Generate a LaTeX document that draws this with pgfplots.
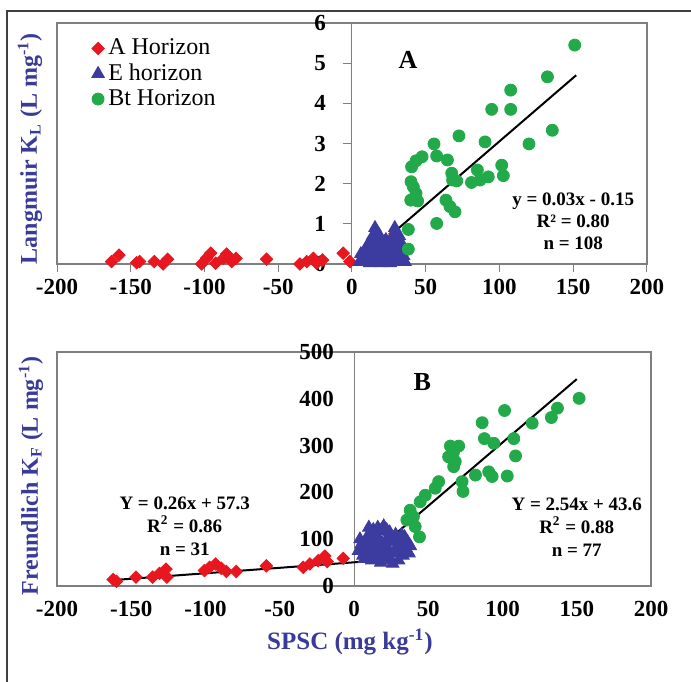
\documentclass[border=0pt]{standalone}
\usepackage{fontspec}
\setmainfont{Liberation Serif}
\usepackage{pgfplots}
\pgfplotsset{compat=1.18}
\definecolor{RedA}{HTML}{E8161E}
\definecolor{BlueE}{HTML}{3C3CA0}
\definecolor{GreenBt}{HTML}{22AA4A}
\definecolor{LabBlue}{HTML}{3A3A98}
\definecolor{BoxGray}{HTML}{7F7F7F}

\pgfplotsset{
  panel/.style={
    scale only axis, clip=false,
    xmin=-200, xmax=200,
    xtick={-200,-150,...,200},
    xtick pos=bottom, ytick pos=left,
    axis line style={draw=BoxGray, line width=0.75pt},
    tick align=outside,
    tick style={draw=BoxGray, line width=0.5pt},
    y tick style={draw=none},
    /pgf/number format/assume math mode=true,
    ticklabel style={font=\fontsize{11.5}{13}\selectfont\bfseries},
  },
  redA/.style={only marks, mark=square*, mark size=2.2pt, color=RedA,
    mark options={rotate=45, draw=RedA, fill=RedA}},
  blueE/.style={only marks, mark=triangle*, mark size=3.6pt, color=BlueE,
    mark options={draw=BlueE, fill=BlueE}},
  greenBt/.style={only marks, mark=*, mark size=3pt, color=GreenBt,
    mark options={draw=GreenBt, fill=GreenBt}},
}

\begin{document}
\begin{tikzpicture}
\useasboundingbox (0,0) rectangle (345.5pt,-340.5pt);
\draw[black!75, line width=0.7pt] (3.5pt,-345pt) -- (3.5pt,-5.5pt) -- (350pt,-5.5pt);

%% Panel A: Langmuir
\begin{axis}[panel,
  at={(28.5pt,-132pt)}, anchor=south west,
  width=295pt, height=120.5pt,
  ymin=0, ymax=6, ytick={0,1,...,6},
  major tick length=4pt,
  yticklabel style={xshift=142pt},
  legend style={at={(rel axis cs:0.055,0.96)}, anchor=north west,
    draw=none, fill=none, font=\fontsize{12}{14}\selectfont,
    row sep=-1pt, inner sep=1pt},
  legend cell align=left,
]
\draw[BoxGray, line width=0.5pt] (axis cs:0,0) -- (axis cs:0,6);
\pgfplotsinvokeforeach{1,...,5}{\draw[BoxGray, line width=0.5pt] ([xshift=-4.5pt]axis cs:0,#1) -- (axis cs:0,#1);}
\addplot[redA] coordinates {
  (-163,0.06)(-158,0.22)(-146,0.03)(-144,0.06)(-134,0.06)(-128,0)(-125,0.12)
  (-102,0)(-98.5,0.15)(-95.8,0.27)(-92.4,0.02)(-87.2,0.14)(-85,0.25)(-81.6,0.06)
  (-78.6,0.14)(-57.9,0.12)(-35.3,0)(-30.7,0.06)(-26.2,0.14)(-24,0.02)(-20,0.1)
  (-6,0.27)(-1.4,0.06)(21,0.3)(25,0.35)(29,0.75)(31,0.2)};
\addlegendentry{A Horizon}
\addplot[blueE] coordinates {
  (5,0.05)(7,0.1)(8,0.2)(9,0.05)(10,0.3)(11,0.15)(12,0.45)(13,0.6)(14,0.1)
  (15,0.35)(15.6,0.9)(16,0.2)(17,0.5)(18,0.05)(18,0.3)(19,0.6)(20,0.15)
  (21,0.4)(22,0.1)(22,0.55)(23,0.25)(24,0.05)(25,0.45)(26,0.2)(27,0.65)
  (28,0.1)(29,0.9)(29,0.35)(30,0.5)(31,0.2)(32,0.05)(32,0.7)(33,0.3)
  (34,0.1)(35,0.2)(20,0.02)(26,0.02)(12,0.02)(9,0.35)(11,0.5)(14,0.7)
  (16,0.65)(18,0.75)(24,0.3)(27,0.35)(30,0.8)(33,0.55)(36,0.05)(6,0.25)
  (20,0.5)(23,0.6)(28,0.5)(31,0.4)(35,0.4)};
\addlegendentry{E horizon}
\addplot[greenBt] coordinates {
  (151,5.45)(132.5,4.66)(107.6,4.33)(94.7,3.85)(107.6,3.85)(72.5,3.19)
  (135.8,3.33)(55.6,2.99)(90.2,3.04)(120,2.99)(47.5,2.67)(43.4,2.57)
  (40.4,2.42)(57.4,2.69)(64.7,2.59)(40,2.05)(41.6,1.92)(43.4,1.76)
  (39.8,1.59)(44.5,1.57)(67.6,2.26)(68.2,2.09)(71,2.07)(63.7,1.59)
  (66.4,1.43)(69.8,1.30)(57.4,1.01)(81,2.03)(85,2.34)(86.8,2.09)
  (92.4,2.17)(101.5,2.46)(102.6,2.20)(38.2,0.86)(38.2,0.37)};
\addlegendentry{Bt Horizon}
\addplot[black, line width=1pt, forget plot] coordinates {(5,0.05)(152,4.7)};
\node[font=\fontsize{13}{15}\selectfont\bfseries] at (axis cs:38,5.07) {A};
\node[font=\fontsize{9.5}{11}\selectfont\bfseries, align=center] at (axis cs:150,1.07)
  {y = 0.03x - 0.15\\R² = 0.80\\n = 108};
\end{axis}

%% Panel B: Freundlich
\begin{axis}[panel,
  at={(28.5pt,-293pt)}, anchor=south west,
  width=297pt, height=117pt,
  ymin=0, ymax=500, ytick={0,100,...,500},
  major tick length=0pt,
  xticklabel style={yshift=-4pt},
  yticklabel style={xshift=142pt},
]
\draw[BoxGray, line width=0.5pt] (axis cs:0,0) -- (axis cs:0,500);
\addplot[redA] coordinates {
  (-162.2,14)(-146.8,19)(-135.6,19)(-131,27)(-126.6,36)(-126,19)
  (-100.7,33)(-97.3,40)(-93.2,47)(-89.4,38)(-86,31)(-79.3,31)(-59,43)
  (-34.2,40)(-29.7,47)(-24.1,54)(-19.6,64)(-18,52)(-7.2,59)(-160,10)};
\addplot[blueE] coordinates {
  (3,75)(5,90)(6,65)(8,100)(9,80)(10,110)(11,70)(12,95)(13,120)(14,85)
  (15,60)(16,105)(17,75)(18,118)(19,92)(20,128)(21,65)(22,100)(23,80)
  (24,115)(25,55)(26,95)(27,70)(28,110)(29,85)(30,100)(31,75)(32,90)
  (33,65)(34,105)(35,80)(36,95)(37,70)(38,85)(12,55)(18,50)(26,48)
  (30,55)(7,58)(22,120)(16,125)(10,125)(4,100)(8,80)(14,100)(20,85)
  (24,95)(28,70)(32,110)(36,75)(15,80)(19,60)(23,65)(35,95)};
\addplot[greenBt] coordinates {
  (151.6,401)(137,380)(132.9,360)(120,348)(101.4,375)(86.3,349)(87.8,315)
  (94.1,305)(107.6,315)(108.8,278)(64.9,299)(70.5,299)(67.1,287)(63.7,276)
  (68.2,266)(67.1,255)(81.8,237)(90.7,244)(93,234)(103.2,235)(72.8,223)
  (73.4,202)(57,223)(54.7,209)(48,194)(44.6,180)(37.8,162)(40,148)
  (41.2,127)(44.1,105)(35.6,141)};
\addplot[black, line width=1pt] coordinates {(-165,12)(6,52)(150,442)};
\node[font=\fontsize{13}{15}\selectfont\bfseries] at (axis cs:46,436) {B};
\node[font=\fontsize{9.5}{11.5}\selectfont\bfseries, align=center] at (axis cs:150,126)
  {Y = 2.54x + 43.6\\R\textsuperscript{2} = 0.88\\n = 77};
\node[font=\fontsize{9.5}{11.5}\selectfont\bfseries, align=center] at (axis cs:-114,128)
  {Y = 0.26x + 57.3\\R\textsuperscript{2} = 0.86\\n = 31};
\end{axis}

\node[rotate=90, text=LabBlue, font=\fontsize{12}{14}\selectfont\bfseries]
  at (15pt,-74.5pt) {Langmuir K\textsubscript{L} (L mg\textsuperscript{-1})};
\node[rotate=90, text=LabBlue, font=\fontsize{12}{14}\selectfont\bfseries]
  at (15.5pt,-238pt) {Freundlich K\textsubscript{F} (L mg\textsuperscript{-1})};
\node[text=LabBlue, font=\fontsize{12.5}{15}\selectfont\bfseries]
  at (175pt,-321pt) {SPSC (mg kg\textsuperscript{-1})};
\end{tikzpicture}
\end{document}
